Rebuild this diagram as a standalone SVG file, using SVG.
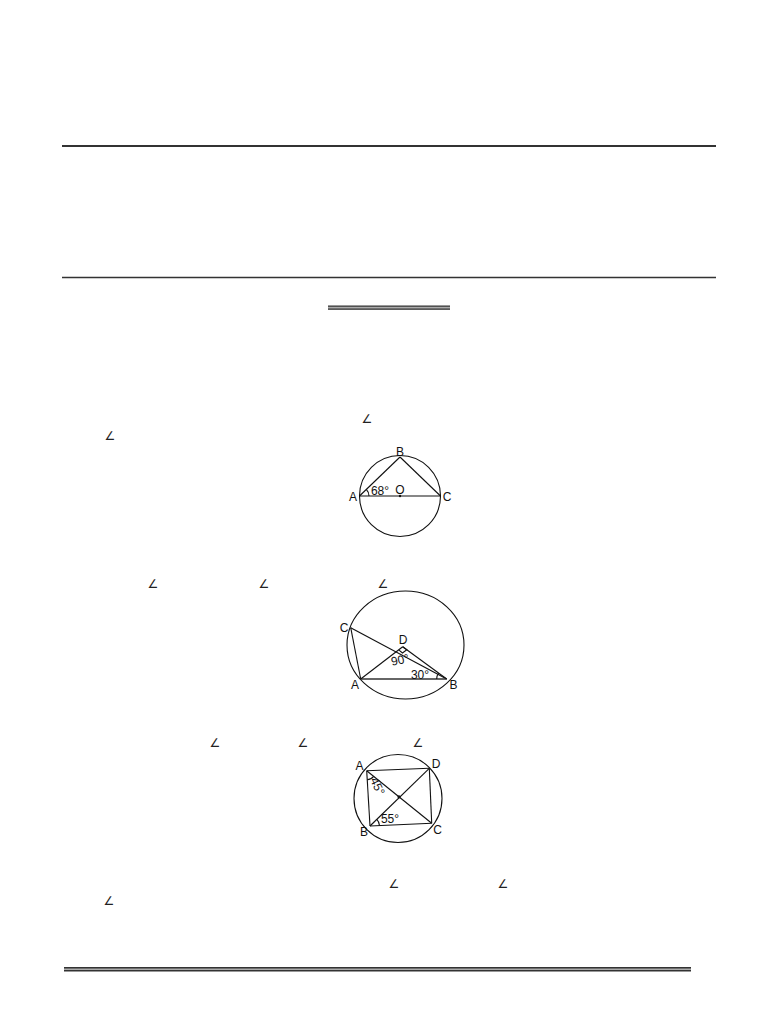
<svg xmlns="http://www.w3.org/2000/svg" width="768" height="1024" viewBox="0 0 768 1024">
<style>
.rule{stroke:#333;fill:none}
.g{stroke:#111;stroke-width:1.1;fill:none}
.lbl{font-family:"Liberation Sans",Arial,sans-serif;font-size:12px;fill:#111;text-anchor:middle}
.ang{font-family:"DejaVu Sans",sans-serif;font-size:12px;fill:#222;text-anchor:middle}
</style>
<rect width="768" height="1024" fill="#fff"/>
<g id="rules">
<line class="rule" x1="62" y1="146" x2="716" y2="146" stroke-width="1.8"/>
<line class="rule" x1="62" y1="277.5" x2="716" y2="277.5" stroke-width="1.4"/>
<rect x="328" y="306" width="122" height="3.5" fill="#aaa"/>
<line class="rule" x1="328" y1="306.2" x2="450" y2="306.2" stroke-width="1.2"/>
<line class="rule" x1="328" y1="309.2" x2="450" y2="309.2" stroke-width="1.2"/>
<rect x="64" y="967.5" width="627" height="3.5" fill="#aaa"/>
<line class="rule" x1="64" y1="967.8" x2="691" y2="967.8" stroke-width="1.4"/>
<line class="rule" x1="64" y1="970.8" x2="691" y2="970.8" stroke-width="1.4"/>
</g>
<g id="angle-symbols">
<text class="ang" x="367" y="423">∠</text>
<text class="ang" x="110" y="440">∠</text>
<text class="ang" x="153" y="588">∠</text>
<text class="ang" x="264" y="588">∠</text>
<text class="ang" x="383" y="588">∠</text>
<text class="ang" x="215" y="747">∠</text>
<text class="ang" x="303" y="747">∠</text>
<text class="ang" x="418" y="747">∠</text>
<text class="ang" x="394" y="888">∠</text>
<text class="ang" x="503" y="888">∠</text>
<text class="ang" x="109" y="905">∠</text>
</g>
<g id="figure1">
<circle class="g" cx="400" cy="496" r="40.5"/>
<line class="g" x1="359.5" y1="496" x2="440.5" y2="496"/>
<line class="g" x1="359.5" y1="496" x2="400" y2="457"/>
<line class="g" x1="400" y1="457" x2="440.5" y2="496"/>
<path class="g" d="M369 496 A9.5 9.5 0 0 0 366.3 489.4"/>
<circle cx="400" cy="496" r="1.2" fill="#111"/>
<text class="lbl" x="353" y="501">A</text>
<text class="lbl" x="447" y="501">C</text>
<text class="lbl" x="400" y="455.5">B</text>
<text class="lbl" x="400" y="494" font-size="11">O</text>
<text class="lbl" x="380" y="495" font-size="10.5">68°</text>
</g>
<g id="figure2">
<ellipse class="g" cx="405.5" cy="645" rx="58.5" ry="54"/>
<line class="g" x1="350.7" y1="627.7" x2="446.7" y2="679"/>
<line class="g" x1="350.7" y1="627.7" x2="360.7" y2="679"/>
<line x1="360.7" y1="679" x2="446.7" y2="679" stroke="#333" stroke-width="1.6"/>
<line class="g" x1="360.7" y1="679" x2="402.7" y2="646.7"/>
<line class="g" x1="402.7" y1="646.7" x2="446.7" y2="679"/>
<path class="g" d="M398.7 649.8 L402.5 653 L406.8 649.7 L402.7 646.7"/>
<path class="g" d="M436.7 679 A10 10 0 0 1 438.6 673"/>
<text class="lbl" x="344" y="632">C</text>
<text class="lbl" x="355" y="688.5">A</text>
<text class="lbl" x="453.5" y="688.5">B</text>
<text class="lbl" x="403" y="643.5">D</text>
<text class="lbl" x="400" y="664" font-size="10.5" transform="rotate(-12 400 660)">90°</text>
<text class="lbl" x="420" y="679">30°</text>
</g>
<g id="figure3">
<circle class="g" cx="398" cy="798.5" r="44"/>
<line class="g" x1="366.7" y1="770.7" x2="429.3" y2="768.3"/>
<line class="g" x1="429.3" y1="768.3" x2="431.7" y2="823.3"/>
<line class="g" x1="431.7" y1="823.3" x2="370" y2="826"/>
<line class="g" x1="370" y1="826" x2="366.7" y2="770.7"/>
<line class="g" x1="366.7" y1="770.7" x2="431.7" y2="823.3"/>
<line class="g" x1="370" y1="826" x2="429.3" y2="768.3"/>
<circle cx="399" cy="796.8" r="1.6" fill="#111"/>
<path class="g" d="M367.2 779.7 A9 9 0 0 0 373.7 776.4"/>
<path class="g" d="M379.5 825.6 A9.5 9.5 0 0 0 376.8 819.4"/>
<text class="lbl" x="359.5" y="770">A</text>
<text class="lbl" x="436" y="768">D</text>
<text class="lbl" x="364" y="835.5">B</text>
<text class="lbl" x="437.5" y="833.5">C</text>
<text class="lbl" x="377" y="790" font-size="10" transform="rotate(65 377 786.5)">45°</text>
<text class="lbl" x="390" y="823">55°</text>
</g>
</svg>
